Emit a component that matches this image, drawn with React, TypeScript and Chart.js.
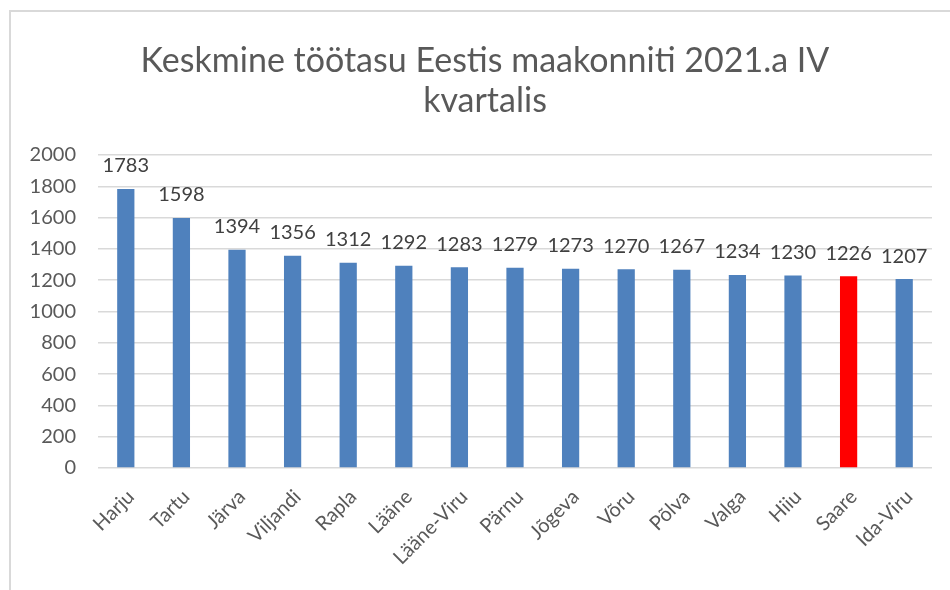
import React, { useEffect, useRef } from "react";
import { Chart, registerables } from "chart.js";

Chart.register(...registerables);

const categories = ["Harju", "Tartu", "Järva", "Viljandi", "Rapla", "Lääne", "Lääne-Viru", "Pärnu", "Jõgeva", "Võru", "Põlva", "Valga", "Hiiu", "Saare", "Ida-Viru"];
const values = [1783, 1598, 1394, 1356, 1312, 1292, 1283, 1279, 1273, 1270, 1267, 1234, 1230, 1226, 1207];
const highlighted = ["Saare"];
const titleLines = ["Keskmine töötasu Eestis maakonniti 2021.a IV", "kvartalis"];

const FONT = "Lato, 'Open Sans', sans-serif";

const labelPlugin = {
  id: "barLabels",
  afterDatasetsDraw(chart: any) {
    const ctx = chart.ctx;
    const meta = chart.getDatasetMeta(0);
    ctx.save();
    ctx.font = `20px ${FONT}`;
    ctx.fillStyle = "#404040";
    ctx.textAlign = "center";
    ctx.textBaseline = "bottom";
    meta.data.forEach((bar: any, i: number) => {
      ctx.fillText(String(values[i]), bar.x, bar.y - 13);
    });
    ctx.restore();
  },
};

const titlePlugin = {
  id: "customTitle",
  afterDraw(chart: any) {
    const ctx = chart.ctx;
    ctx.save();
    ctx.font = `34px ${FONT}`;
    ctx.fillStyle = "#595959";
    ctx.textAlign = "center";
    ctx.textBaseline = "middle";
    titleLines.forEach((line, i) => {
      ctx.fillText(line, 475, 61 + i * 40);
    });
    ctx.restore();
  },
};

export default function App() {
  const ref = useRef<HTMLCanvasElement>(null);
  useEffect(() => {
    if (!ref.current) return;
    const chart = new Chart(ref.current, {
      type: "bar",
      data: {
        labels: categories,
        datasets: [
          {
            data: values,
            backgroundColor: categories.map((c) => (highlighted.includes(c) ? "#FF0000" : "#4F81BD")),
            barPercentage: 0.31,
            categoryPercentage: 1,
          },
        ],
      },
      options: {
        responsive: false,
        animation: false,
        layout: { padding: { left: 10, right: 18, top: 155, bottom: 0 } },
        plugins: {
          legend: { display: false },
          tooltip: { enabled: false },
          title: { display: false },
        },
        scales: {
          x: {
            grid: { display: false },
            border: { display: false },
            ticks: {
              color: "#595959",
              font: { family: FONT, size: 20 },
              minRotation: 45,
              maxRotation: 45,
              padding: 9,
              labelOffset: 5,
            },
            afterFit: (s: any) => {
              s.height = 122;
            },
          },
          y: {
            min: 0,
            max: 2000,
            ticks: {
              stepSize: 200,
              color: "#595959",
              font: { family: FONT, size: 20 },
              padding: 22,
              callback: (v: any) => String(v),
            },
            grid: { color: "#d9d9d9", lineWidth: 1.5, drawTicks: false },
            border: { display: false },
            afterFit: (s: any) => {
              s.width = 78;
            },
          },
        },
      },
      plugins: [labelPlugin, titlePlugin],
    });
    return () => chart.destroy();
  }, []);

  return (
    <div style={{ position: "fixed", left: 0, top: 0, width: 950, height: 590, background: "#fff", overflow: "hidden" }}>
      <div
        style={{
          position: "absolute",
          left: 9,
          top: 10,
          width: 1000,
          height: 700,
          borderLeft: "2px solid #d9d9d9",
          borderTop: "2px solid #d9d9d9",
        }}
      />
      <canvas ref={ref} width={940} height={590} style={{ position: "absolute", left: 10, top: 0 }} />
    </div>
  );
}
